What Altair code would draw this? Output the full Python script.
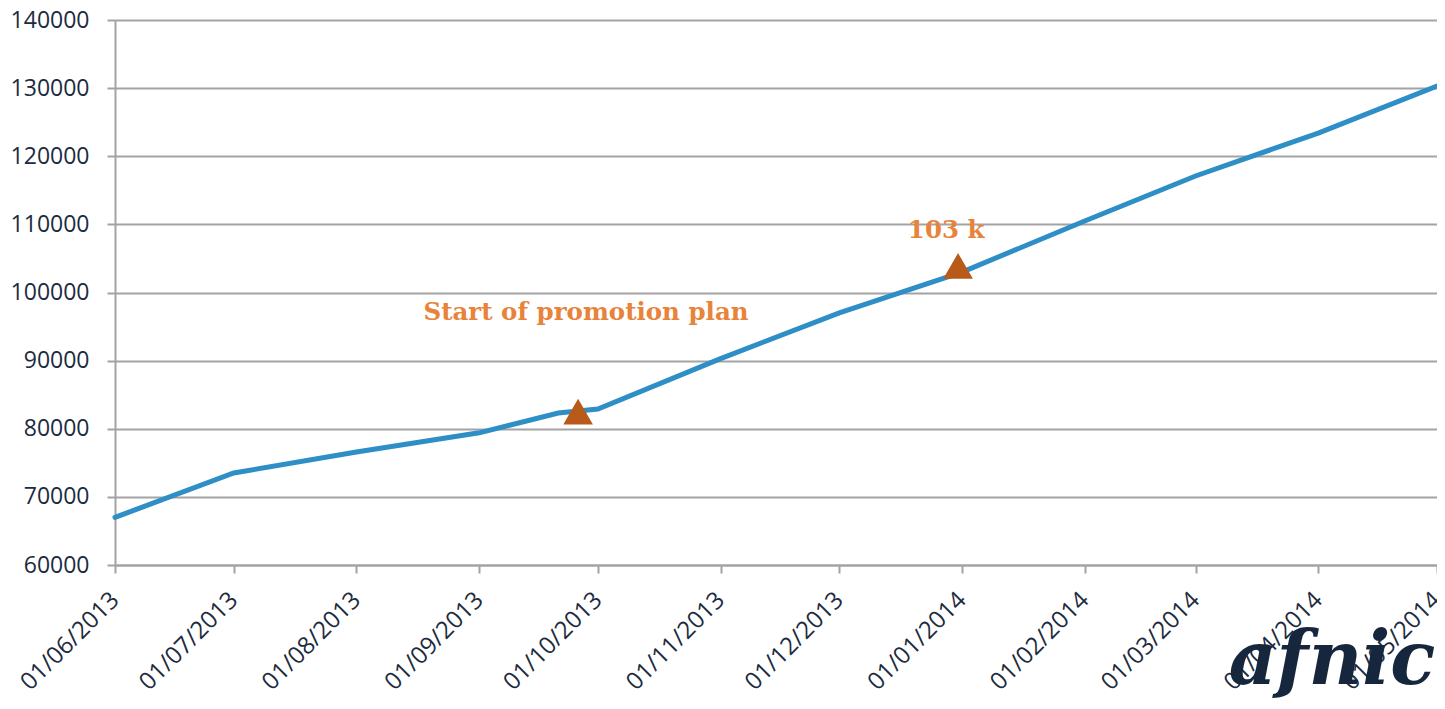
import altair as alt
import pandas as pd

# Series
dates = ["2013-06-01", "2013-07-01", "2013-08-01", "2013-09-01", "2013-09-21",
         "2013-10-01", "2013-11-01", "2013-12-01", "2014-01-01", "2014-02-01",
         "2014-03-01", "2014-04-01", "2014-05-01"]
values = [67000, 73500, 76600, 79400, 82300, 82900, 90300, 97000, 103000,
          110500, 117100, 123400, 130300]

# Markers
marker_dates = ["2013-09-26", "2013-12-31"]
marker_values = [82500, 103900]

# Annotations
note_texts = ["Start of promotion plan", "103 k"]
note_dates = ["2013-09-28", "2013-12-28"]
note_values = [97000, 109000]

# Axis ticks
tick_months = [(2013, 6), (2013, 7), (2013, 8), (2013, 9), (2013, 10), (2013, 11),
               (2013, 12), (2014, 1), (2014, 2), (2014, 3), (2014, 4), (2014, 5)]
y_ticks = [60000, 70000, 80000, 90000, 100000, 110000, 120000, 130000, 140000]

line_df = pd.DataFrame({"date": [d + "T00:00:00" for d in dates], "value": values})
marker_df = pd.DataFrame({"date": [d + "T00:00:00" for d in marker_dates], "value": marker_values})
note_df = pd.DataFrame({"date": [d + "T00:00:00" for d in note_dates], "value": note_values,
                        "text": note_texts})

axis_font = "Open Sans"
label_color = "#1C2B3E"
grid_color = "#A3A3A5"

x_scale = alt.Scale(domain=[alt.DateTime(year=2013, month=6, date=1),
                            alt.DateTime(year=2014, month=5, date=1)])
y_scale = alt.Scale(domain=[60000, 140000], nice=False, zero=False)

x_axis = alt.Axis(
    values=[alt.DateTime(year=y, month=m, date=1) for (y, m) in tick_months],
    format="%d/%m/%Y", labelAngle=-45, labelAlign="right", labelBaseline="middle",
    title=None, grid=False,
    labelFont=axis_font, labelFontSize=24, labelColor=label_color,
    labelPadding=23, tickSize=8, tickColor=grid_color, tickWidth=2,
    domainColor=grid_color, domainWidth=2, labelOverlap=False,
    labelFlush=False,
)
y_axis = alt.Axis(
    values=y_ticks, format="d", title=None, grid=True,
    gridColor=grid_color, gridWidth=2,
    labelFont=axis_font, labelFontSize=23, labelColor=label_color,
    labelPadding=18, tickSize=8, tickColor=grid_color, tickWidth=2,
    domainColor=grid_color, domainWidth=2,
)

line = alt.Chart(line_df).mark_line(color="#2E8EC6", strokeWidth=5, strokeCap="round").encode(
    x=alt.X("date:T", scale=x_scale, axis=x_axis),
    y=alt.Y("value:Q", scale=y_scale, axis=y_axis),
)

markers = alt.Chart(marker_df).mark_point(
    shape="triangle-up", filled=True, size=880, color="#B85A1A", opacity=1
).encode(
    x=alt.X("date:T", scale=x_scale),
    y=alt.Y("value:Q", scale=y_scale),
)

notes = alt.Chart(note_df).mark_text(
    font="DejaVu Serif", fontWeight="bold", fontSize=24.5, color="#E8833A",
    align="center", baseline="middle"
).encode(
    x=alt.X("date:T", scale=x_scale),
    y=alt.Y("value:Q", scale=y_scale),
    text="text:N",
)

logo = alt.Chart(pd.DataFrame({"t": ["afnic"]})).mark_text(
    font="DejaVu Serif", fontWeight="bold", fontStyle="italic", fontSize=74,
    color="#16263D", align="center", baseline="middle"
).encode(
    x=alt.value(1217), y=alt.value(642), text="t:N"
)

chart = alt.layer(line, markers, notes, logo).properties(
    width=1322, height=545,
    autosize=alt.AutoSizeParams(type="none"),
    padding={"left": 107, "top": 12, "right": 0, "bottom": 136},
).configure_view(stroke=None).configure(background="white")

chart.save("out.html", embed_options={"renderer": "svg", "actions": False})
